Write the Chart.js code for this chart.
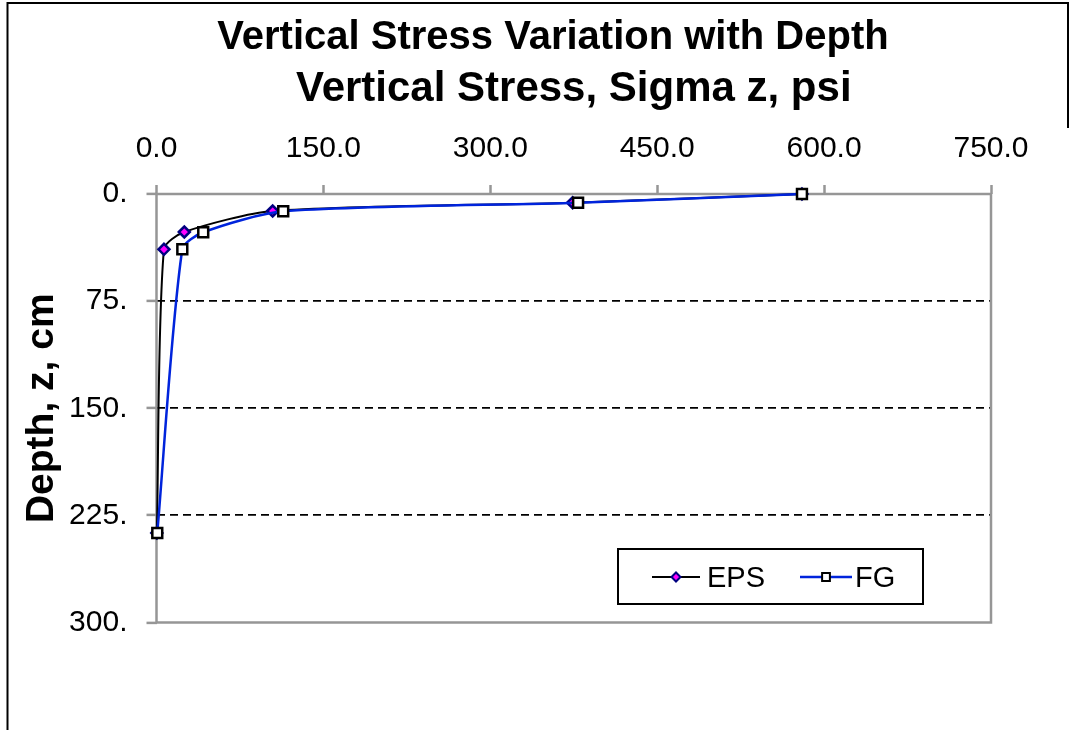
<!DOCTYPE html>
<html>
<head>
<meta charset="utf-8">
<title>Vertical Stress Variation with Depth</title>
<script src="https://cdn.jsdelivr.net/npm/chart.js@4.4.1/dist/chart.umd.min.js"></script>
<style>
  html, body { margin: 0; padding: 0; background: #ffffff; }
  #wrap { width: 1073px; height: 730px; }
</style>
</head>
<body>
<div id="wrap"><canvas id="c" width="1073" height="730"></canvas></div>
<script>
// ---- data ----
const chartTitle = 'Vertical Stress Variation with Depth';
const xAxisTitle = 'Vertical Stress, Sigma z, psi';
const yAxisTitle = 'Depth, z, cm';
const seriesNames = ['EPS', 'FG'];

// vertical stress (psi) and depth (cm) for each profile
const stressEPS = [580.1, 374.0, 104.4, 25.0, 6.7, 0.3];
const depthEPS  = [0, 6.1, 11.9, 26.6, 38.7, 237.3];
const stressFG  = [580.1, 378.9, 113.9, 42.0, 23.2, 0.7];
const depthFG   = [0, 6.1, 12.1, 26.8, 38.7, 237.3];

// axis ticks
const xTickValues = [0, 150, 300, 450, 600, 750];
const xTickLabels = ['0.0', '150.0', '300.0', '450.0', '600.0', '750.0'];
const yTickValues = [0, 75, 150, 225, 300];
const yTickLabels = ['0.', '75.', '150.', '225.', '300.'];
const yGridValues = [75, 150, 225];

// ---- styling ----
const FONT = "'Liberation Sans', Arial, Helvetica, sans-serif";
const AXIS_GREY = '#969696';
const FG_BLUE = '#0024dc';
const SMOOTHING = 0.25;

const toPoints = (xs, ys) => xs.map((x, i) => ({ x: x, y: ys[i] }));

// plot frame, outer border, main heading and in-plot key
const decor = {
  id: 'decor',
  beforeDatasetsDraw(chart) {
    const { ctx, chartArea: a } = chart;
    ctx.save();
    ctx.strokeStyle = AXIS_GREY;
    ctx.lineWidth = 2.5;
    ctx.strokeRect(a.left, a.top, a.right - a.left, a.bottom - a.top);
    ctx.restore();
  },
  afterDraw(chart) {
    const { ctx } = chart;
    ctx.save();
    // outer border
    ctx.strokeStyle = '#000';
    ctx.lineWidth = 2;
    ctx.beginPath();
    ctx.moveTo(7.5, 730);
    ctx.lineTo(7.5, 3);
    ctx.lineTo(1068, 3);
    ctx.lineTo(1068, 128);
    ctx.stroke();

    // heading
    ctx.fillStyle = '#000';
    ctx.font = 'bold 40px ' + FONT;
    ctx.textAlign = 'center';
    ctx.textBaseline = 'middle';
    ctx.fillText(chartTitle, 553, 38);

    // key
    const box = { left: 618, top: 549, right: 923, bottom: 604 };
    ctx.fillStyle = '#fff';
    ctx.fillRect(box.left, box.top, box.right - box.left, box.bottom - box.top);
    ctx.strokeStyle = '#000';
    ctx.lineWidth = 2;
    ctx.strokeRect(box.left, box.top, box.right - box.left, box.bottom - box.top);

    const rowY = 577;
    const entries = [
      { ds: chart.data.datasets[0], x0: 652, x1: 700, tx: 707 },
      { ds: chart.data.datasets[1], x0: 800, x1: 852, tx: 855 }
    ];
    entries.forEach(e => {
      ctx.strokeStyle = e.ds.borderColor;
      ctx.lineWidth = e.ds.borderWidth;
      ctx.beginPath();
      ctx.moveTo(e.x0, rowY);
      ctx.lineTo(e.x1, rowY);
      ctx.stroke();
      ctx.fillStyle = e.ds.pointBackgroundColor;
      ctx.strokeStyle = e.ds.pointBorderColor;
      ctx.lineWidth = 2;
      Chart.helpers.drawPoint(ctx, {
        pointStyle: e.ds.pointStyle,
        radius: e.ds.pointStyle === 'rect' ? 5.5 : 4.5,
        borderWidth: 2,
        rotation: 0
      }, (e.x0 + e.x1) / 2, rowY);
      ctx.fillStyle = '#000';
      ctx.font = '29px ' + FONT;
      ctx.textAlign = 'left';
      ctx.textBaseline = 'middle';
      ctx.fillText(e.ds.label, e.tx, rowY + 2);
    });
    ctx.restore();
  }
};

new Chart(document.getElementById('c'), {
  type: 'scatter',
  data: {
    datasets: [
      {
        label: seriesNames[0],
        data: toPoints(stressEPS, depthEPS),
        showLine: true,
        tension: SMOOTHING,
        borderColor: '#000000',
        borderWidth: 2,
        pointStyle: 'rectRot',
        pointRadius: 5.5,
        pointBackgroundColor: '#ff00ff',
        pointBorderColor: '#000080',
        pointBorderWidth: 2.5,
        clip: false,
        order: 2
      },
      {
        label: seriesNames[1],
        data: toPoints(stressFG, depthFG),
        showLine: true,
        tension: SMOOTHING,
        borderColor: FG_BLUE,
        borderWidth: 2.5,
        pointStyle: 'rect',
        pointRadius: 7,
        pointBackgroundColor: '#ffffff',
        pointBorderColor: '#000000',
        pointBorderWidth: 2.5,
        clip: false,
        order: 1
      }
    ]
  },
  options: {
    responsive: false,
    animation: false,
    devicePixelRatio: 1,
    layout: { padding: { left: 0, right: 82, top: 0, bottom: 107.5 } },
    plugins: {
      legend: { display: false },
      title: { display: false },
      tooltip: { enabled: false }
    },
    scales: {
      x: {
        type: 'linear',
        position: 'top',
        min: 0,
        max: 750,
        afterBuildTicks(scale) { scale.ticks = xTickValues.map(v => ({ value: v })); },
        afterFit(scale) { scale.height = 194; },
        ticks: {
          color: '#000',
          font: { family: FONT, size: 30 },
          padding: 18,
          maxRotation: 0,
          callback: (v, i) => xTickLabels[i]
        },
        grid: {
          drawOnChartArea: false,
          drawTicks: true,
          tickLength: 9,
          tickColor: AXIS_GREY,
          tickWidth: 2.5
        },
        border: { display: false },
        title: {
          display: true,
          text: xAxisTitle,
          color: '#000',
          font: { family: FONT, size: 42, weight: 'bold' },
          padding: { top: 64, bottom: 0 }
        }
      },
      y: {
        type: 'linear',
        position: 'left',
        reverse: true,
        min: 0,
        max: 300,
        afterBuildTicks(scale) { scale.ticks = yTickValues.map(v => ({ value: v })); },
        afterFit(scale) { scale.width = 156.5; },
        ticks: {
          color: '#000',
          font: { family: FONT, size: 30 },
          padding: 19,
          callback: (v, i) => yTickLabels[i]
        },
        grid: {
          color: c => (c.tick && yGridValues.includes(c.tick.value)) ? '#000' : 'rgba(0,0,0,0)',
          lineWidth: 1.8,
          tickLength: 10,
          tickColor: AXIS_GREY,
          tickWidth: 2.5,
          tickBorderDash: []
        },
        border: { display: false, dash: [8, 5] },
        title: {
          display: true,
          text: yAxisTitle,
          color: '#000',
          font: { family: FONT, size: 39, weight: 'bold' },
          padding: { top: 19, bottom: 0 }
        }
      }
    }
  },
  plugins: [decor]
});
</script>
</body>
</html>
